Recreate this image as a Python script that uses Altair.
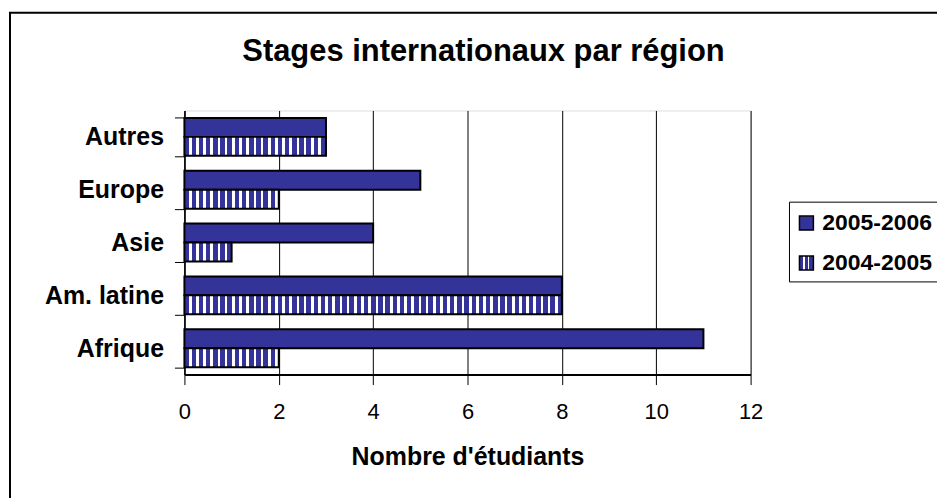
import altair as alt
import pandas as pd

# ---- data ----
regions = ["Autres", "Europe\u00a0", "Asie", "Am. latine", "Afrique"]
series_names = ["2005-2006", "2004-2005"]
values_2005_2006 = [3, 5, 4, 8, 11]
values_2004_2005 = [3, 2, 1, 8, 2]
x_ticks = [0, 2, 4, 6, 8, 10, 12]

rows = []
for r, a, b in zip(regions, values_2005_2006, values_2004_2005):
    rows.append({"region": r, "series": series_names[0], "value": a})
    rows.append({"region": r, "series": series_names[1], "value": b})
df = pd.DataFrame(rows)
legend_df = pd.DataFrame({"series": series_names})

# ---- style ----
W, H = 568, 265
NAVY = "#333399"
FONT = "Liberation Sans"
PX_PER_UNIT = W / 12.0


def stripes(width_px, period=7.2, dark=4.5):
    stops = []
    k = 0
    while k * period < width_px - 0.01:
        s = k * period / width_px
        m = min((k * period + dark) / width_px, 1.0)
        e = min((k + 1) * period / width_px, 1.0)
        stops.append({"offset": round(s, 5), "color": NAVY})
        stops.append({"offset": round(m, 5), "color": NAVY})
        if m < 1.0:
            stops.append({"offset": round(m, 5), "color": "#ffffff"})
            stops.append({"offset": round(e, 5), "color": "#ffffff"})
        k += 1
    return {"gradient": "linear", "x1": 0, "x2": 1, "y1": 0, "y2": 0, "stops": stops}


legend_grad = {
    "gradient": "linear", "x1": 0, "x2": 1, "y1": 0, "y2": 0,
    "stops": [
        {"offset": 0, "color": NAVY}, {"offset": 0.28, "color": NAVY},
        {"offset": 0.28, "color": "#ffffff"}, {"offset": 0.42, "color": "#ffffff"},
        {"offset": 0.42, "color": NAVY}, {"offset": 0.58, "color": NAVY},
        {"offset": 0.58, "color": "#ffffff"}, {"offset": 0.72, "color": "#ffffff"},
        {"offset": 0.72, "color": NAVY}, {"offset": 1, "color": NAVY},
    ],
}

conds = [
    {"test": f"datum.series === '{series_names[1]}' && datum.value === {v}",
     "value": stripes(v * PX_PER_UNIT)}
    for v in sorted(set(values_2004_2005))
]

bars = alt.Chart(df).mark_bar(stroke="black", strokeWidth=2).encode(
    x=alt.X(
        "value:Q",
        scale=alt.Scale(domain=[0, 12], nice=False),
        axis=alt.Axis(
            values=x_ticks, grid=True, gridColor="black", gridWidth=1, gridOpacity=1,
            domainColor="black", domainWidth=2, tickColor="black", tickSize=10, tickWidth=1,
            labelFontSize=22, labelFont=FONT, labelColor="black", labelPadding=17,
            labelFlush=False, labelOverlap=False,
            title="Nombre d'étudiants", titleFontSize=25, titleFont=FONT,
            titleFontWeight="bold", titleColor="black", titleY=90,
            titleBaseline="alphabetic",
        ),
    ),
    y=alt.Y(
        "region:N", sort=regions,
        scale=alt.Scale(paddingInner=0.283, paddingOuter=0.1415),
        axis=alt.Axis(
            title=None, tickBand="extent", domainColor="black", domainWidth=1.5,
            tickColor="black", tickSize=10, tickWidth=1, labelFontSize=25,
            labelFontWeight="bold", labelFont=FONT, labelColor="black",
            labelPadding=11, grid=False,
        ),
    ),
    yOffset=alt.YOffset("series:N", sort=series_names,
                        scale=alt.Scale(paddingInner=0, paddingOuter=0)),
    fill=alt.Fill(
        "series:N",
        scale=alt.Scale(domain=series_names, range=[NAVY, NAVY]),
        condition=conds,
        legend=None,
    ),
)

frame = alt.Chart(alt.Data(values=[{}])).mark_rect(
    filled=False, stroke="black", strokeWidth=2
).encode(
    x=alt.value(-175), y=alt.value(-98), x2=alt.value(W + 400), y2=alt.value(H + 400)
)

# hand-built legend (box, striped/plain symbols, labels)
leg_y = alt.Y("series:N", sort=series_names,
              scale=alt.Scale(type="point", domain=series_names, range=[113, 153], padding=0),
              axis=None)

legend_box = alt.Chart(alt.Data(values=[{}])).mark_rect(
    fill="white", stroke="black", strokeWidth=1
).encode(x=alt.value(607), x2=alt.value(W + 220), y=alt.value(92), y2=alt.value(172))

legend_sym = alt.Chart(legend_df).mark_square(
    size=196, stroke="black", strokeWidth=1.5, opacity=1
).encode(
    x=alt.value(624),
    y=leg_y,
    fill=alt.FillValue(NAVY, condition={"test": f"datum.series === '{series_names[1]}'",
                                        "value": legend_grad}),
)

legend_txt = alt.Chart(legend_df).mark_text(
    align="left", baseline="middle", fontSize=23, font=FONT, fontWeight="bold", color="black"
).encode(x=alt.value(640), y=leg_y, text="series:N")

legend_layer = alt.layer(legend_sym, legend_txt)

chart = alt.layer(frame, bars, legend_box, legend_layer).resolve_scale(
    y="independent"
).properties(
    width=W, height=H,
    title=alt.TitleParams(
        text="Stages internationaux par région", fontSize=31, font=FONT,
        fontWeight="bold", anchor="middle", frame="group", baseline="alphabetic",
        offset=-80, dx=16, color="black",
    ),
    autosize=alt.AutoSizeParams(type="none"),
    padding={"left": 177, "top": 102, "right": 187, "bottom": 123},
    background="white",
).configure_view(
    fill="#CCFFFF", stroke="black", strokeWidth=1.5
).configure(font=FONT)

chart.save("out.html", embed_options={"renderer": "svg", "actions": False})
